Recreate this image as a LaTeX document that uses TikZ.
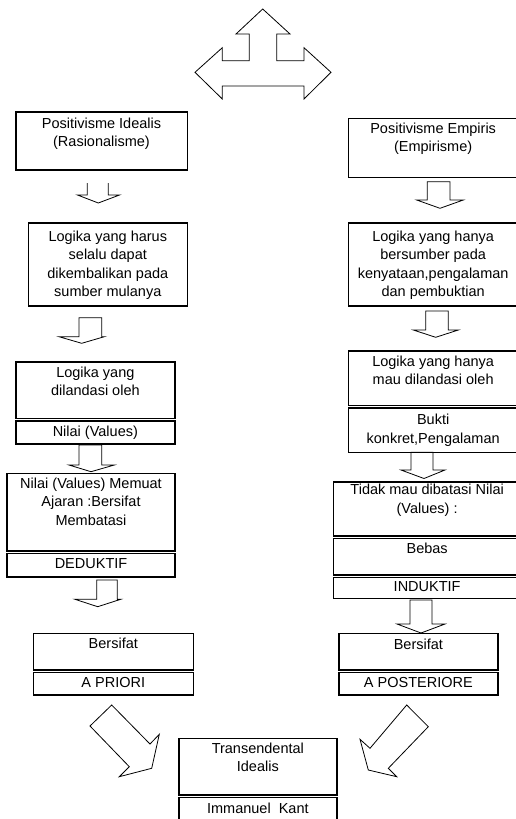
\documentclass[tikz,border=0pt]{standalone}
\usepackage{fontspec}
\setmainfont{Liberation Sans}
\usetikzlibrary{calc}
\tikzset{
  box/.style={draw, line width=1.6pt, inner sep=0pt, outer sep=0pt, anchor=north west},
  txt/.style={anchor=north, inner sep=0pt, align=center, font=\fontsize{14.5}{18.4}\selectfont},
  barrow/.style={draw, line width=0.8pt, line join=miter},
}
% box: name, x1, y1, x2, y2
\newcommand\mkbox[5]{\node[box, minimum width={(#4-#2)*1pt}, minimum height={(#5-#3)*1pt}] (#1) at (#2,#3) {};}
% block arrow: shaftL, shaftR, top, base, headL, headR, tipx, tipy
\newcommand\blkarrow[8]{\draw[barrow] (#1,#3) -- (#1,#4) -- (#5,#4) -- (#7,#8) -- (#6,#4) -- (#2,#4) -- (#2,#3) -- cycle;}
\begin{document}
\begin{tikzpicture}[x=1pt,y=-1pt]
\useasboundingbox (0,0) rectangle (516,819);
\clip (0,0) rectangle (516,819);

% top three-way arrow
\draw[barrow] (262.7,9) -- (290,34) -- (276.7,34) -- (276.7,60.7) -- (304,60.7) -- (304,47.7)
  -- (331,72.3) -- (304,99) -- (304,86) -- (222.3,86) -- (222.3,99) -- (195,72.3)
  -- (222.3,47.7) -- (222.3,60.7) -- (249.3,60.7) -- (249.3,34) -- (236,34) -- cycle;

% left column boxes
\mkbox{L1}{15.7}{111.7}{187.3}{170}
\mkbox{L2}{28.3}{222.7}{187.3}{305.7}
\mkbox{L3a}{15.7}{361.7}{175}{418.5}
\mkbox{L3b}{15.7}{421}{175}{444}
\mkbox{L4a}{7}{473.3}{175}{551}
\mkbox{L4b}{7}{553.5}{175}{576.7}
\mkbox{L5a}{33.3}{633.3}{193.3}{670}
\mkbox{L5b}{33.3}{672.5}{193.3}{695}

% right column boxes
\mkbox{R1}{348.3}{118.3}{518}{177.3}
\mkbox{R2}{348.3}{222.7}{518}{305.7}
\mkbox{R3a}{348.3}{351}{518}{405.5}
\mkbox{R3b}{348.3}{408}{518}{452.3}
\mkbox{R4a}{333.3}{481.7}{521}{536}
\mkbox{R4b}{333.3}{538.5}{521}{575}
\mkbox{R4c}{333.3}{577.5}{521}{598.3}
\mkbox{R5a}{339}{633.3}{497.7}{670}
\mkbox{R5b}{339}{672.5}{497.7}{695}

% bottom box
\mkbox{B1a}{179}{738.3}{336.7}{795}
\mkbox{B1b}{179}{797.5}{336.7}{830}

% texts
\node[txt] (tL1) at ([yshift=-6pt]L1.north) {Positivisme Idealis\\(Rasionalisme)};
\node[txt] (tL2) at ([yshift=-8pt]L2.north) {Logika yang harus\\selalu dapat\\dikembalikan pada\\sumber mulanya};
\node[txt] (tL3a) at ([yshift=-5pt]L3a.north) {Logika yang\\dilandasi oleh};
\node[txt] (tL3b) at ([yshift=-4.5pt]L3b.north) {Nilai (Values)};
\node[txt] (tL4a) at ([yshift=-4.5pt]L4a.north) {Nilai (Values) Memuat\\Ajaran :Bersifat\\Membatasi};
\node[txt] (tL4b) at ([yshift=-5pt]L4b.north) {DEDUKTIF};
\node[txt] (tL5a) at ([yshift=-4pt]L5a.north) {Bersifat};
\node[txt] (tL5b) at ([yshift=-4.5pt]L5b.north) {A PRIORI};

\node[txt] (tR1) at ([yshift=-4pt]R1.north) {Positivisme Empiris\\(Empirisme)};
\node[txt] (tR2) at ([yshift=-8pt]R2.north) {Logika yang hanya\\bersumber pada\\kenyataan,pengalaman\\dan pembuktian};
\node[txt] (tR3a) at ([yshift=-4.5pt]R3a.north) {Logika yang hanya\\mau dilandasi oleh};
\node[txt] (tR3b) at ([yshift=-6pt]R3b.north) {Bukti\\konkret,Pengalaman};
\node[txt] (tR4a) at ([yshift=-2.5pt]R4a.north) {Tidak mau dibatasi Nilai\\(Values) :};
\node[txt] (tR4b) at ([yshift=-4.5pt]R4b.north) {Bebas};
\node[txt] (tR4c) at ([yshift=-4pt]R4c.north) {INDUKTIF};
\node[txt] (tR5a) at ([yshift=-5pt]R5a.north) {Bersifat};
\node[txt] (tR5b) at ([yshift=-4.5pt]R5b.north) {A POSTERIORE};

\node[txt] (tB1a) at ([yshift=-4pt]B1a.north) {Transendental\\Idealis};
\node[txt] (tB1b) at ([yshift=-5pt]B1b.north) {Immanuel\ \ Kant};

% left column arrows
\draw[barrow] (87.3,183) -- (87.3,195) -- (77.5,195) -- (98.3,203) -- (119.5,195) -- (108.3,195) -- (108.3,183);
\blkarrow{79}{101.7}{317.7}{336.7}{59}{104.3}{81.7}{343.3}
\blkarrow{79}{101.7}{445}{465}{69}{114.3}{91}{471.7}
\blkarrow{96.7}{117.3}{580}{599.3}{75}{120.7}{97.7}{606.7}

% right column arrows
\blkarrow{427.3}{450}{181.7}{200}{416.7}{463.3}{440}{208.3}
\blkarrow{425.7}{448.3}{311}{330}{413.3}{458.3}{435.7}{337.3}
\blkarrow{411}{433}{452.3}{470}{401}{445}{424}{478.5}
\blkarrow{410}{432}{600}{624}{397}{445}{421}{633}

% diagonal arrows
\draw[barrow] (111.7,705) -- (150,744) -- (159.3,734.3) -- (151.7,768.3) -- (119.3,776.7) -- (129.3,766.7) -- (90,726) -- cycle;
\draw[barrow] (406.7,705) -- (428.3,726.7) -- (388.3,768.3) -- (396.7,776.7) -- (368.3,770) -- (360,739.3) -- (370,748.3) -- cycle;
\end{tikzpicture}
\end{document}
